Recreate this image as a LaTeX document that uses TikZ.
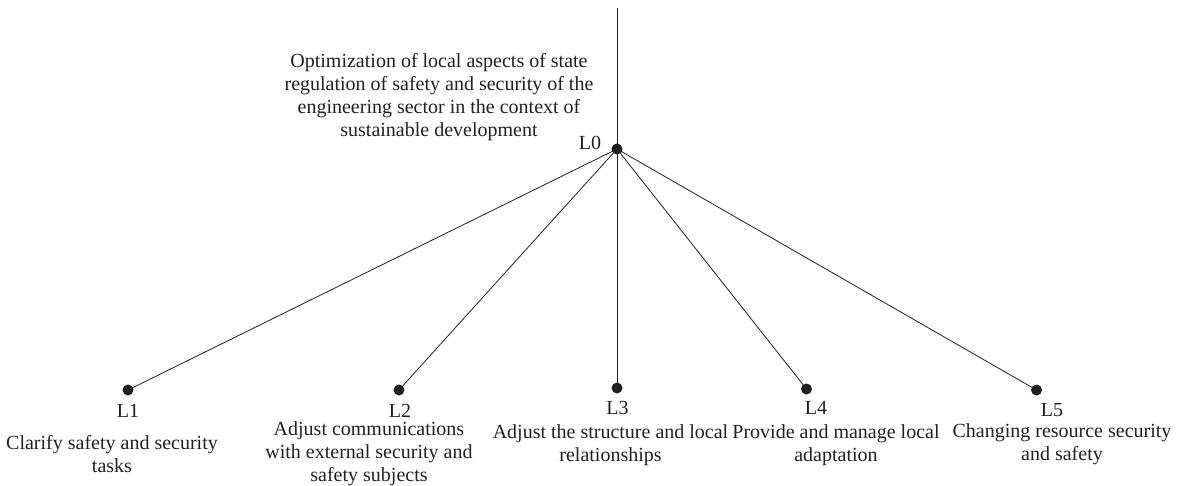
\documentclass[tikz,border=0pt]{standalone}
\usepackage{fontspec}
\setmainfont{Liberation Serif}
\definecolor{ink}{HTML}{231F20}
\begin{document}
\begin{tikzpicture}[x=1pt,y=-1pt,
  dot/.style={circle,fill=ink,draw=none,minimum size=11pt,inner sep=0pt},
  txt/.style={font=\fontsize{20}{23}\selectfont,align=center,inner sep=0pt,text=ink},
  conn/.style={draw=ink,line width=0.8pt}]
\useasboundingbox (0,0) rectangle (1177,485);
\coordinate (top) at (617,8);
\node[dot] (l0) at (617,149) {};
\node[dot] (l1) at (128,390) {};
\node[dot] (l2) at (399,390) {};
\node[dot] (l3) at (617,388) {};
\node[dot] (l4) at (806.5,389) {};
\node[dot] (l5) at (1036.5,390) {};
\draw[conn] (top) -- (l0.center);
\foreach \n in {l1,l2,l3,l4,l5} \draw[conn] (l0.center) -- (\n.center);
\node[txt] (t0) at (439,96.7) {Optimization of local aspects of state\\regulation of safety and security of the\\engineering sector in the context of\\sustainable development};
\node[txt] (n0) at (590,143) {L0};
\node[txt] (n1) at (128,410.5) {L1};
\node[txt] (n2) at (400,410.5) {L2};
\node[txt] (n3) at (617.5,407.5) {L3};
\node[txt] (n4) at (816,407.5) {L4};
\node[txt] (n5) at (1052,410.5) {L5};
\node[txt] (d1) at (112,454) {Clarify safety and security\\tasks};
\node[txt] (d2) at (369,454.2) {Adjust communications\\with external security and\\safety subjects};
\node[txt] (d3) at (610.5,444.7) {Adjust the structure and local\\relationships};
\node[txt] (d4) at (836,444.7) {Provide and manage local\\adaptation};
\node[txt] (d5) at (1062,444.7) {Changing resource security\\and safety};
\end{tikzpicture}
\end{document}
